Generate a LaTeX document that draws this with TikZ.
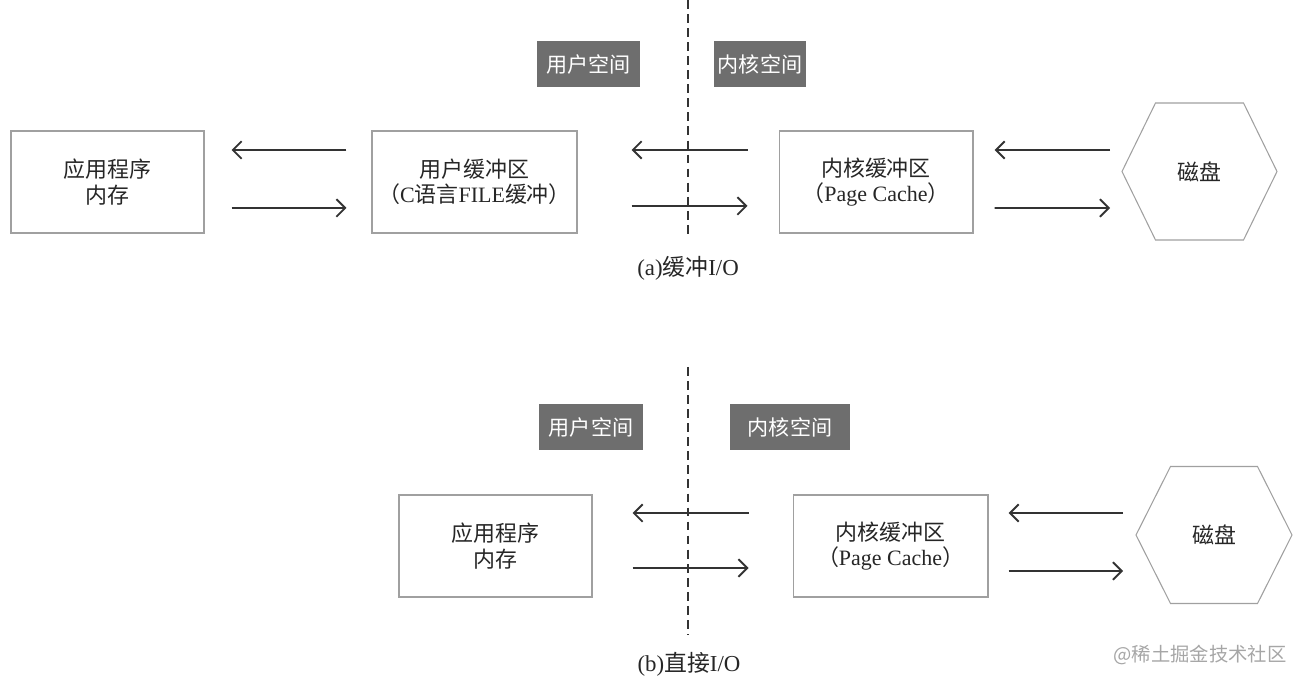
\documentclass[tikz,border=0pt]{standalone}
\usepackage{fontspec}
\setmainfont{Liberation Serif}
\newfontfamily\cjk{Noto Sans CJK SC}
\newcommand{\zh}[1]{{\cjk #1}}
\usepackage{xcolor}
\usetikzlibrary{calc,arrows.meta}
\definecolor{labelgray}{HTML}{6E6E6E}
\definecolor{boxgray}{HTML}{A0A0A0}
\definecolor{arrowgray}{HTML}{333333}

\begin{document}
\begin{tikzpicture}[
					x=0.02cm, y=-0.02cm,
					every node/.style={
						font=\fontsize{12.5}{14.5}\selectfont, align=center, text=black!85
					},
					membox/.style={
						draw=boxgray, line width=0.6pt,
						minimum height=2.04cm, inner sep=0pt
					},
					spacelabel/.style={
						fill=labelgray, text=white, font=\fontsize{12}{14}\selectfont,
						minimum height=0.92cm, inner sep=0pt
					},
					arr/.style={
						draw=arrowgray, line width=1.1pt,
						-{Straight Barb[length=5pt,width=10pt]}
					},
					divider/.style={
						draw=arrowgray, line width=1.1pt, dash pattern=on 5pt off 3pt
					},
					hexline/.style={draw=boxgray, line width=0.6pt},
					caption/.style={font=\fontsize{13}{15}\selectfont}
					]
					\useasboundingbox (0,0) rectangle (1301,685);
					
					% (a) buffered I/O
					\draw[divider] (688,0) -- (688,235);
					\node[spacelabel, minimum width=2.06cm] (ua) at (588.5,64) {\zh{用户空间}};
					\node[spacelabel, minimum width=1.84cm] (ka) at (760,64) {\zh{内核空间}};
					
					\node[membox, minimum width=3.86cm] (appa) at (107.5,182) {\zh{应用程序}\\\zh{内存}};
					\node[membox, minimum width=4.1cm] (ubufa) at (474.5,182) {\zh{用户缓冲区}\\\zh{（}C\zh{语言}FILE\zh{缓冲）}};
					\node[membox, minimum width=3.88cm] (kbufa) at (876,182) {\zh{内核缓冲区}\\\zh{（}Page Cache\zh{）}};
					\node (diska) at (1199.5,171.5) {\zh{磁盘}};
					\draw[hexline] ($(diska)+(-77.5,0)$) -- ($(diska)+(-44,-68.5)$) -- ($(diska)+(44,-68.5)$)
						-- ($(diska)+(77.5,0)$) -- ($(diska)+(44,68.5)$) -- ($(diska)+(-44,68.5)$) -- cycle;
					
					\draw[arr] ($(ubufa.west)+(-25,-32)$) -- ($(appa.east)+(27,-32)$);
					\draw[arr] ($(appa.east)+(27,26)$) -- ($(ubufa.west)+(-25,26)$);
					\draw[arr] ($(kbufa.west)+(-31,-32)$) -- ($(ubufa.east)+(54,-32)$);
					\draw[arr] ($(ubufa.east)+(54,24)$) -- ($(kbufa.west)+(-31,24)$);
					\draw[arr] ($(diska)+(-89.5,-21.5)$) -- ($(kbufa.east)+(21,-32)$);
					\draw[arr] ($(kbufa.east)+(21,26)$) -- ($(diska)+(-89.5,36.5)$);
					
					\node[caption] (capa) at (688,268) {(a)\zh{缓冲}I/O};
					
					% (b) direct I/O
					\draw[divider] (688,367) -- (688,635);
					\node[spacelabel, minimum width=2.1cm] (ub) at (591,427) {\zh{用户空间}};
					\node[spacelabel, minimum width=2.4cm] (kb) at (790,427) {\zh{内核空间}};
					
					\node[membox, minimum width=3.86cm] (appb) at (495.5,546) {\zh{应用程序}\\\zh{内存}};
					\node[membox, minimum width=3.9cm] (kbufb) at (890.5,546) {\zh{内核缓冲区}\\\zh{（}Page Cache\zh{）}};
					\node (diskb) at (1214,535) {\zh{磁盘}};
					\draw[hexline] ($(diskb)+(-78,0)$) -- ($(diskb)+(-43.5,-68.5)$) -- ($(diskb)+(43.5,-68.5)$)
						-- ($(diskb)+(78,0)$) -- ($(diskb)+(43.5,68.5)$) -- ($(diskb)+(-43.5,68.5)$) -- cycle;
					
					\draw[arr] ($(kbufb.west)+(-44,-33)$) -- ($(appb.east)+(40,-33)$);
					\draw[arr] ($(appb.east)+(40,22)$) -- ($(kbufb.west)+(-44,22)$);
					\draw[arr] ($(diskb)+(-91,-22)$) -- ($(kbufb.east)+(20,-33)$);
					\draw[arr] ($(kbufb.east)+(20,25)$) -- ($(diskb)+(-91,36)$);
					
					\node[caption] (capb) at (689,664) {(b)\zh{直接}I/O};
					
					% watermark
					\node[font=\fontsize{11}{13}\selectfont, text=black!35] (mark) at (1200,655) {\zh{@稀土掘金技术社区}};
				\end{tikzpicture}
\end{document}
